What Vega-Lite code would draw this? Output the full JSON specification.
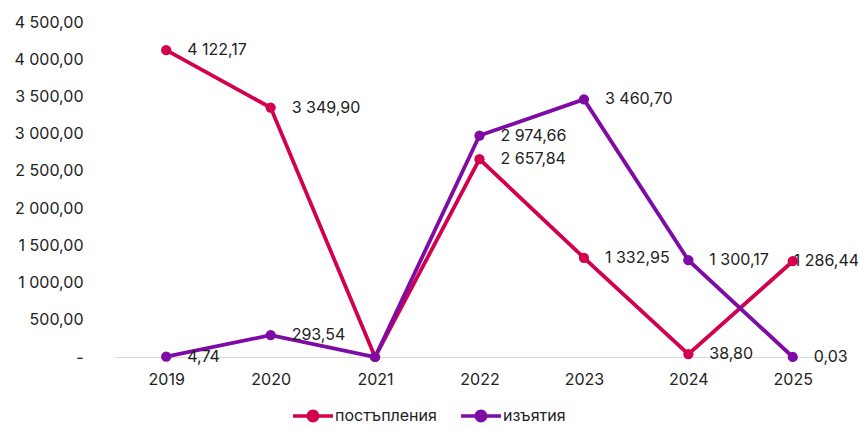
{
  "$schema": "https://vega.github.io/schema/vega-lite/v6.json",
  "autosize": {"type": "none"},
  "padding": {"left": 114, "top": 22, "right": 13, "bottom": 72},
  "width": 731,
  "height": 335,
  "background": "white",
  "config": {
    "locale": {"number": {"decimal": ",", "thousands": " ", "grouping": [3], "currency": ["", ""]}},
    "font": "Inter",
    "view": {"stroke": null}
  },
  "data": {
    "values": [
      {"year": "2019", "series": "постъпления", "value": 4122.17},
      {"year": "2020", "series": "постъпления", "value": 3349.90},
      {"year": "2021", "series": "постъпления", "value": 0},
      {"year": "2022", "series": "постъпления", "value": 2657.84},
      {"year": "2023", "series": "постъпления", "value": 1332.95},
      {"year": "2024", "series": "постъпления", "value": 38.80},
      {"year": "2025", "series": "постъпления", "value": 1286.44},
      {"year": "2019", "series": "изъятия", "value": 4.74},
      {"year": "2020", "series": "изъятия", "value": 293.54},
      {"year": "2021", "series": "изъятия", "value": 0},
      {"year": "2022", "series": "изъятия", "value": 2974.66},
      {"year": "2023", "series": "изъятия", "value": 3460.70},
      {"year": "2024", "series": "изъятия", "value": 1300.17},
      {"year": "2025", "series": "изъятия", "value": 0.03}
    ]
  },
  "encoding": {
    "x": {
      "field": "year", "type": "ordinal",
      "scale": {"type": "point", "padding": 0.5},
      "axis": {"title": null, "labelAngle": 0, "ticks": false, "domainColor": "#d9d9d9", "domainWidth": 1, "labelFontSize": 16, "labelColor": "#222222", "labelPadding": 14, "labelFont": "Inter"}
    },
    "y": {
      "field": "value", "type": "quantitative",
      "scale": {"domain": [0, 4500], "nice": false},
      "axis": {"title": null, "values": [0, 500, 1000, 1500, 2000, 2500, 3000, 3500, 4000, 4500], "grid": false, "domain": false, "ticks": false, "labelFontSize": 16, "labelColor": "#222222", "labelPadding": 31, "labelFont": "Inter", "labelExpr": "datum.value == 0 ? '-' : format(datum.value, ',.2f')"}
    },
    "color": {
      "field": "series", "type": "nominal",
      "scale": {"domain": ["постъпления", "изъятия"], "range": ["#D2004F", "#7E0BA4"]},
      "legend": {
        "title": null, "orient": "none", "legendX": 179, "legendY": 374, "direction": "horizontal", "padding": 0,
        "labelFontSize": 16, "labelColor": "#222222", "labelFont": "Inter", "columnPadding": 24, "labelOffset": 2,
        "symbolType": "M-1,-0.085L1,-0.085L1,0.085L-1,0.085Z M-0.32,0A0.32,0.32 0 1,1 0.32,0A0.32,0.32 0 1,1 -0.32,0Z",
        "symbolSize": 1600, "symbolStrokeWidth": 0,
        "encode": {"symbols": {"update": {"fill": {"scale": "color", "field": "value"}, "strokeWidth": {"value": 0}, "opacity": {"value": 1}}}}
      }
    }
  },
  "layer": [
    {"mark": {"type": "line", "strokeWidth": 3.8}},
    {
      "transform": [{"filter": "datum.year != '2021' && !(datum.year == '2025' && datum.series == 'постъпления')"}],
      "mark": {"type": "text", "align": "left", "baseline": "middle", "dx": 21, "fontSize": 16, "color": "#222222", "font": "Inter"},
      "encoding": {"text": {"field": "value", "type": "quantitative", "format": ",.2f"}, "color": {"value": "#222222"}}
    },
    {
      "transform": [{"filter": "datum.year == '2025' && datum.series == 'постъпления'"}],
      "mark": {"type": "text", "align": "left", "baseline": "middle", "dx": 1, "fontSize": 16, "color": "#222222", "font": "Inter"},
      "encoding": {"text": {"field": "value", "type": "quantitative", "format": ",.2f"}, "color": {"value": "#222222"}}
    },
    {"mark": {"type": "point", "filled": true, "size": 105, "opacity": 1}}
  ]
}
